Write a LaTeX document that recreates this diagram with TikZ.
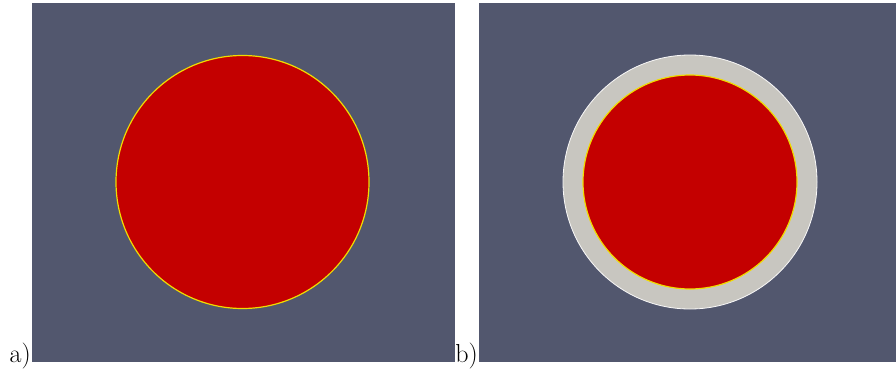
\documentclass[tikz,border=0pt]{standalone}
\usetikzlibrary{positioning}
\definecolor{slatebg}{RGB}{82,87,110}
\definecolor{coredred}{RGB}{196,0,0}
\definecolor{shellgray}{RGB}{200,198,192}
\definecolor{rimyellow}{RGB}{240,220,0}

\begin{document}
\begin{tikzpicture}[x=1pt,y=-1pt,
  panel/.style={fill=slatebg},
  core/.style={fill=coredred, draw=rimyellow, line width=1.2pt},
  tag/.style={anchor=base east, inner sep=0pt, font=\fontsize{26}{30}\selectfont}]
  \useasboundingbox (0,0) rectangle (896,372);
  % a) bare core
  \fill[panel] (32,3) rectangle (455,362);
  \draw[core] (242.5,182) circle (126.5pt);
  \node[tag] (taga) at (31,362) {a)};
  % b) core with outer shell
  \fill[panel] (479,3) rectangle (896,362);
  \draw[fill=shellgray, draw=white!90!shellgray, line width=0.8pt] (690,182) circle (127pt);
  \draw[core] (690,182) circle (107pt);
  \node[tag] (tagb) at (478,362) {b)};
\end{tikzpicture}
\end{document}
